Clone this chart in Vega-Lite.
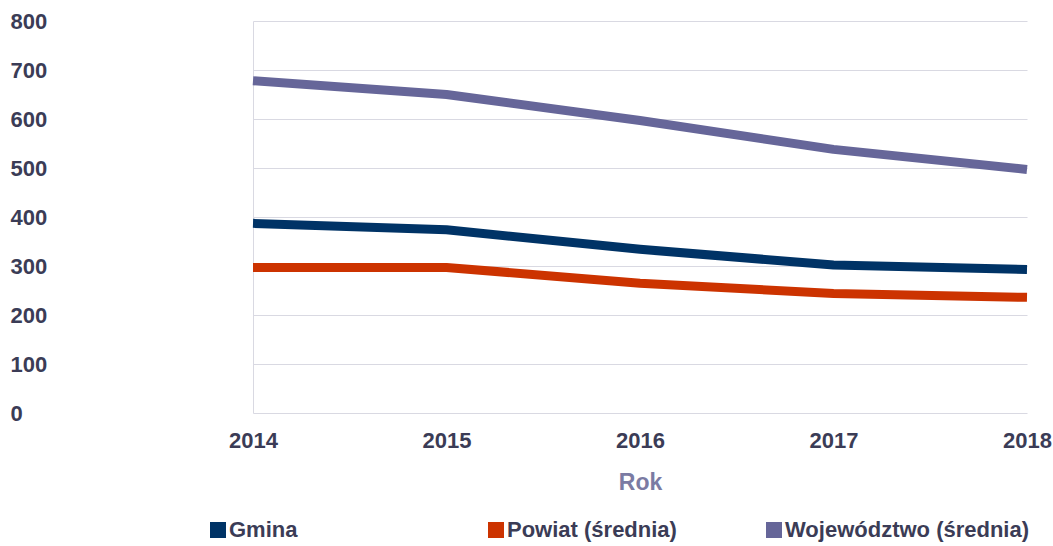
{
  "$schema": "https://vega.github.io/schema/vega-lite/v6.json",
  "autosize": {"type": "none"},
  "width": 774,
  "height": 392,
  "padding": {"left": 253, "top": 21, "right": 26, "bottom": 133},
  "background": "white",
  "config": {
    "view": {"stroke": null},
    "font": "Liberation Sans"
  },
  "data": {
    "values": [
      {"Rok": "2014", "Seria": "Gmina", "Wartosc": 387},
      {"Rok": "2015", "Seria": "Gmina", "Wartosc": 374},
      {"Rok": "2016", "Seria": "Gmina", "Wartosc": 334},
      {"Rok": "2017", "Seria": "Gmina", "Wartosc": 302},
      {"Rok": "2018", "Seria": "Gmina", "Wartosc": 293},
      {"Rok": "2014", "Seria": "Powiat (średnia)", "Wartosc": 297},
      {"Rok": "2015", "Seria": "Powiat (średnia)", "Wartosc": 297},
      {"Rok": "2016", "Seria": "Powiat (średnia)", "Wartosc": 265},
      {"Rok": "2017", "Seria": "Powiat (średnia)", "Wartosc": 244},
      {"Rok": "2018", "Seria": "Powiat (średnia)", "Wartosc": 236},
      {"Rok": "2014", "Seria": "Województwo (średnia)", "Wartosc": 678},
      {"Rok": "2015", "Seria": "Województwo (średnia)", "Wartosc": 650},
      {"Rok": "2016", "Seria": "Województwo (średnia)", "Wartosc": 597},
      {"Rok": "2017", "Seria": "Województwo (średnia)", "Wartosc": 538},
      {"Rok": "2018", "Seria": "Województwo (średnia)", "Wartosc": 497}
    ]
  },
  "mark": {"type": "line", "strokeWidth": 9, "strokeJoin": "round", "strokeCap": "butt"},
  "encoding": {
    "x": {
      "field": "Rok",
      "type": "ordinal",
      "scale": {"type": "point", "padding": 0},
      "axis": {
        "title": "Rok",
        "titleFont": "Liberation Sans",
        "titleFontSize": 23,
        "titleFontWeight": "bold",
        "titleColor": "#7b7ba3",
        "titlePadding": 20,
        "labelAngle": 0,
        "labelFont": "Liberation Sans",
        "labelFontSize": 22,
        "labelFontWeight": "bold",
        "labelColor": "#3b3c56",
        "labelPadding": 17,
        "labelBaseline": "top",
        "ticks": false,
        "tickSize": 0,
        "domain": false,
        "grid": false
      }
    },
    "y": {
      "field": "Wartosc",
      "type": "quantitative",
      "scale": {"domain": [0, 800], "nice": false},
      "axis": {
        "title": null,
        "values": [0, 100, 200, 300, 400, 500, 600, 700, 800],
        "labelFont": "Liberation Sans",
        "labelFontSize": 22,
        "labelFontWeight": "bold",
        "labelColor": "#3b3c56",
        "labelAlign": "left",
        "labelBaseline": "middle",
        "labelPadding": 243,
        "ticks": false,
        "tickSize": 0,
        "domain": true,
        "domainColor": "#d9d9e2",
        "domainWidth": 1,
        "grid": true,
        "gridColor": "#d9d9e2",
        "gridWidth": 1
      }
    },
    "color": {
      "field": "Seria",
      "type": "nominal",
      "scale": {
        "domain": ["Gmina", "Powiat (średnia)", "Województwo (średnia)"],
        "range": ["#003366", "#cc3300", "#666699"]
      },
      "legend": {
        "title": null,
        "orient": "none",
        "legendX": -46,
        "legendY": 498,
        "direction": "horizontal",
        "columns": 3,
        "gridAlign": "all",
        "columnPadding": 11,
        "padding": 0,
        "symbolType": "square",
        "symbolSize": 256,
        "symbolStrokeWidth": 0,
        "labelOffset": 0,
        "labelFont": "Liberation Sans",
        "labelFontSize": 22,
        "labelFontWeight": "bold",
        "labelColor": "#3b3c56",
        "labelLimit": 400,
        "encode": {
          "symbols": {
            "update": {
              "fill": {"scale": "color", "field": "value"},
              "stroke": {"value": "transparent"}
            }
          }
        }
      }
    }
  }
}
